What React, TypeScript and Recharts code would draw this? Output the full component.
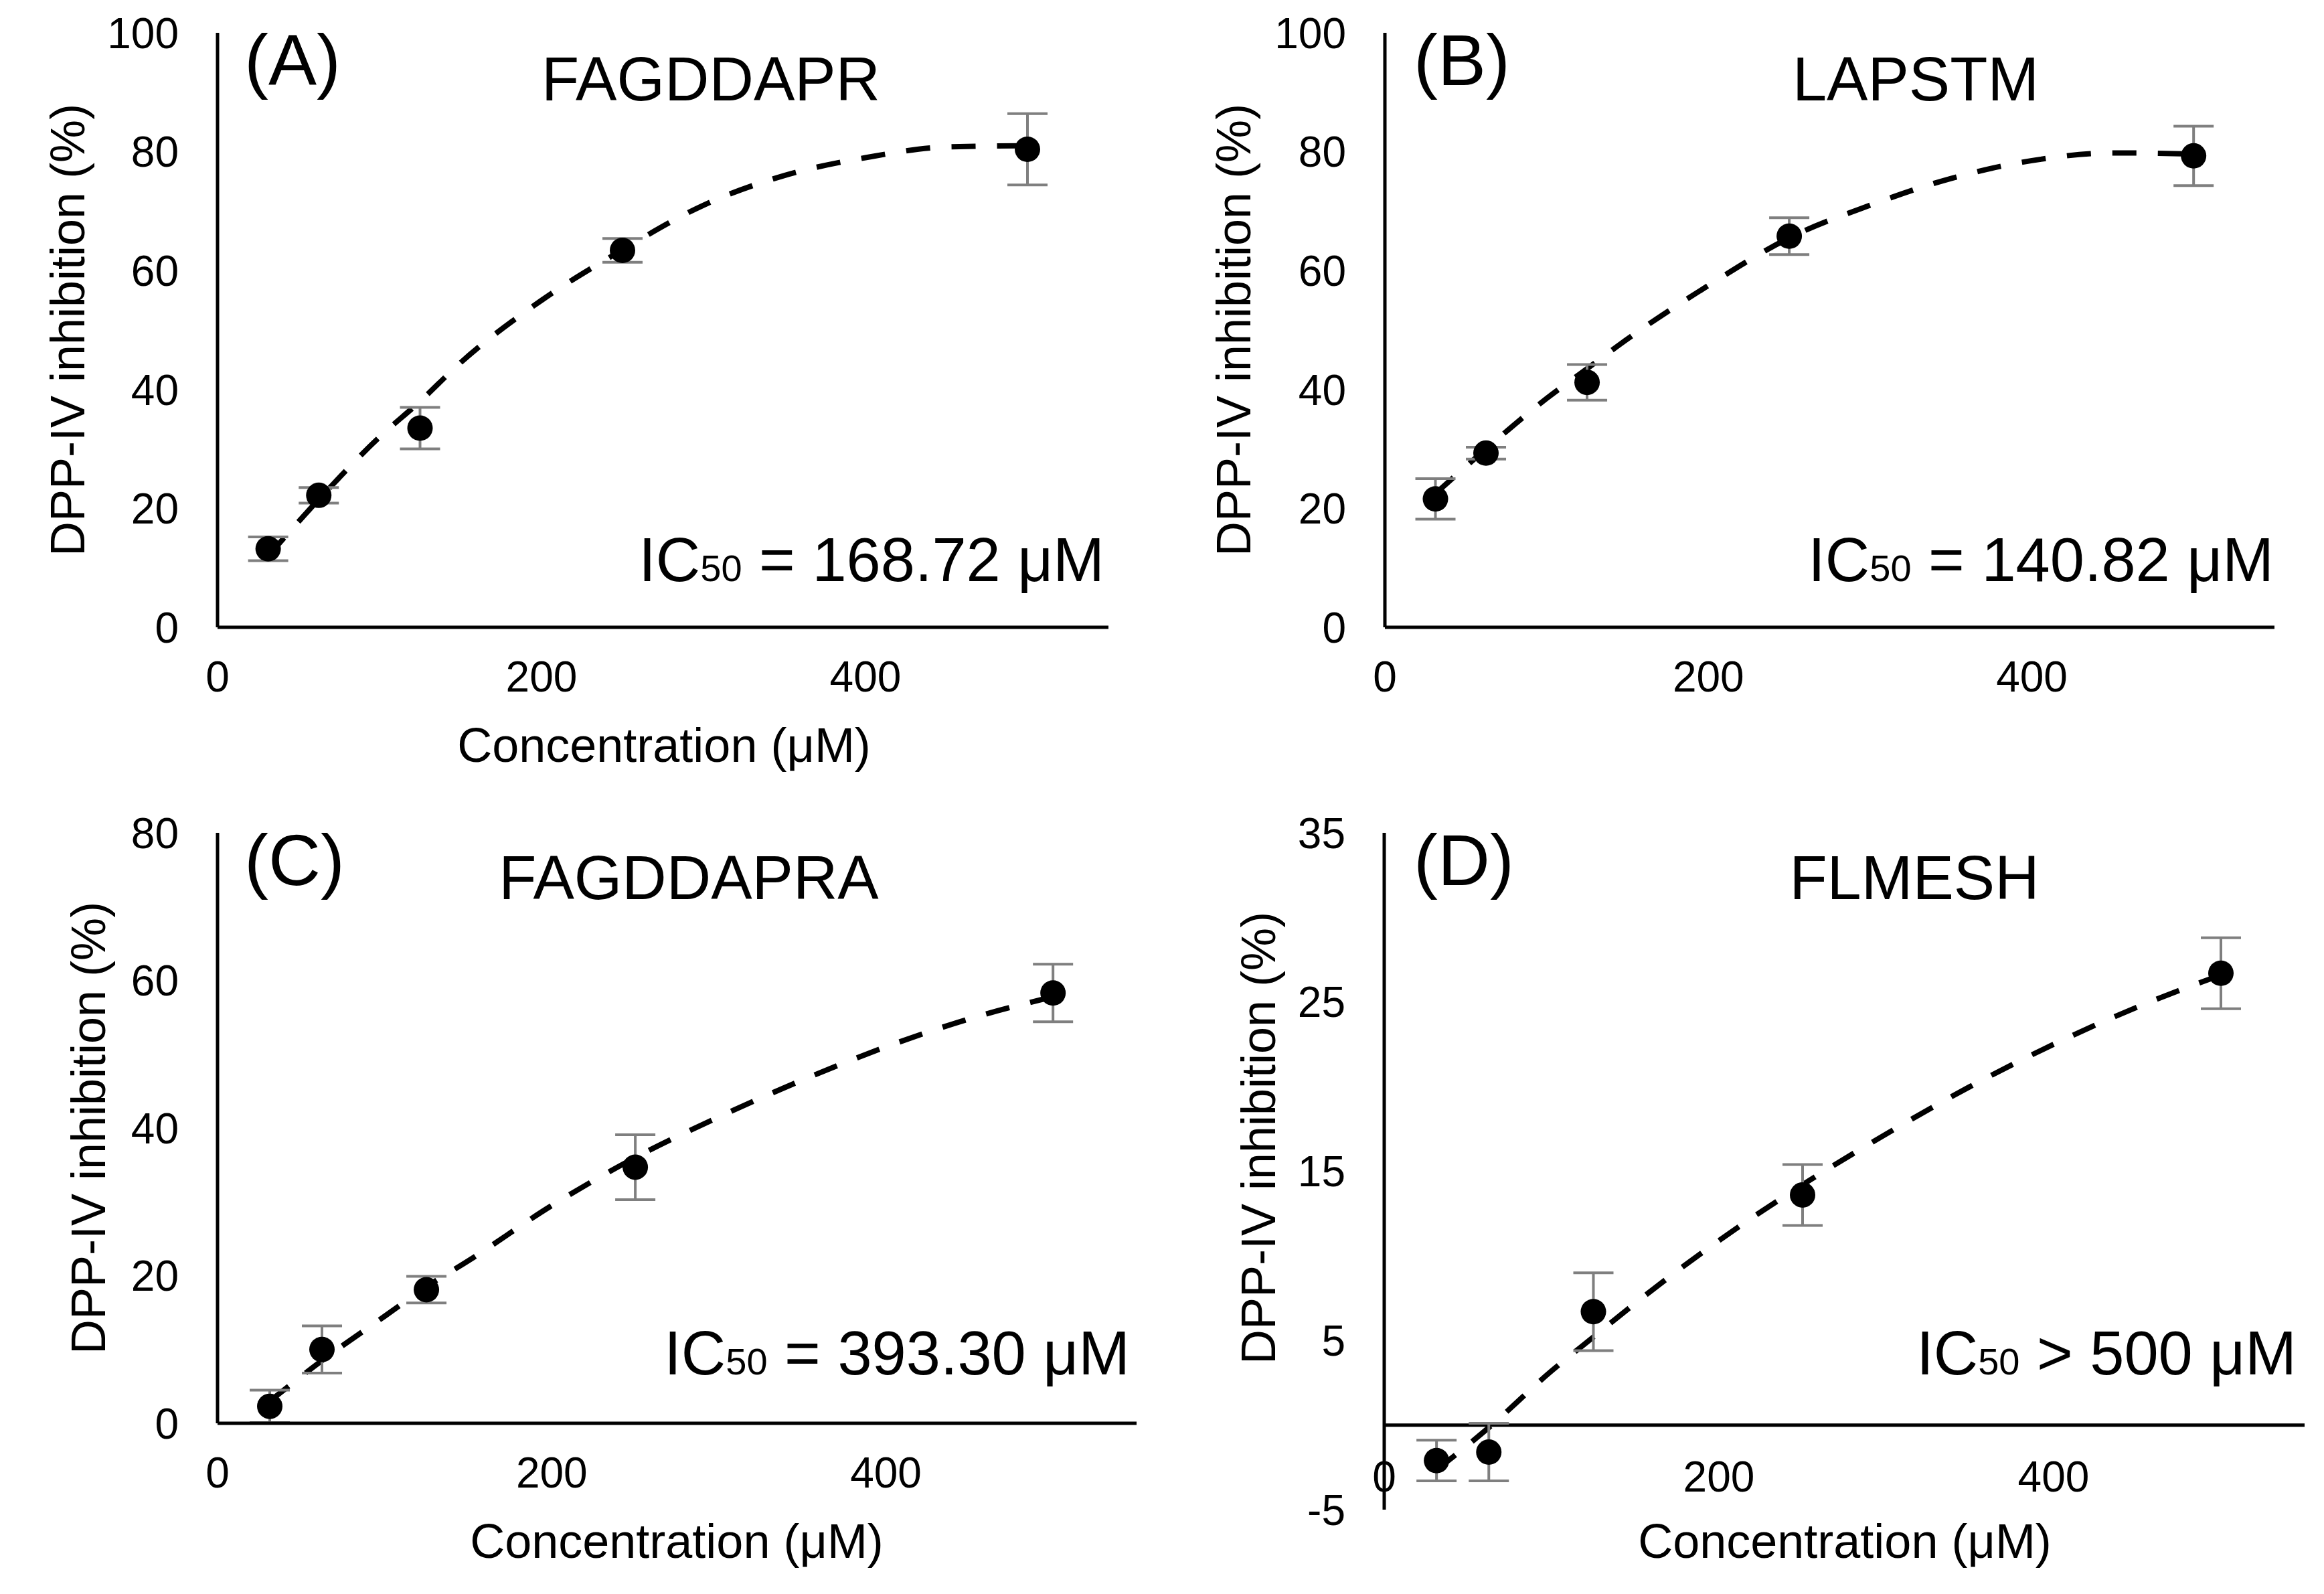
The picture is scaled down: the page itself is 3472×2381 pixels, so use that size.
import React from "react"
import {
  ComposedChart,
  Line,
  Scatter,
  ErrorBar,
  XAxis,
  YAxis,
  ReferenceLine,
} from "recharts"

const FONT = '"Liberation Sans", Arial, sans-serif'

// shared x values (μM)
const conc = [31.25, 62.5, 125, 250, 500]
const fitConc = [31.25, 62.5, 100, 125, 150, 200, 250, 300, 350, 400, 450, 500]
const xTicks = [0, 200, 400]

// (A) FAGDDAPR
const aMean = [13.2, 22.2, 33.5, 63.4, 80.4]
const aErr = [2.0, 1.3, 3.5, 2.0, 6.0]
const aFit = [12, 21.5, 32, 38, 44.5, 55, 63.5, 71, 76, 79, 80.8, 81]
const aTicks = [0, 20, 40, 60, 80, 100]

// (B) LAPSTM
const bMean = [21.6, 29.3, 41.2, 65.8, 79.3]
const bErr = [3.4, 1.0, 3.0, 3.1, 5.0]
const bFit = [22.5, 30, 38.5, 43.5, 48.5, 57.5, 65.5, 71, 75.5, 78.5, 79.8, 79.6]
const bTicks = [0, 20, 40, 60, 80, 100]

// (C) FAGDDAPRA
const cMean = [2.3, 10.0, 18.1, 34.7, 58.3]
const cErr = [2.2, 3.2, 1.8, 4.4, 3.9]
const cFit = [3, 8.5, 14.5, 18.5, 22, 29.5, 36, 41.5, 46.5, 51, 54.8, 57.8]
const cTicks = [0, 20, 40, 60, 80]

// (D) FLMESH
const dMean = [-2.1, -1.6, 6.7, 13.6, 26.7]
const dErr = [1.2, 1.7, 2.3, 1.8, 2.1]
const dFit = [-2.65, -0.15, 3.2, 5.2, 7.2, 10.9, 14.2, 17.2, 20, 22.5, 24.7, 26.6]
const dTicks = [-5, 5, 15, 25, 35]

const YW = 300
const XH = 150
const MT = 40
const MR = 40

function Dot(props: any) {
  const { cx, cy } = props
  if (cx == null || cy == null) return null
  return <circle cx={cx} cy={cy} r={19} fill="#000" />
}

function XTick({ x, y, payload, shift }: any) {
  return (
    <text
      x={x}
      y={y + shift}
      textAnchor="middle"
      fontSize={64}
      fontFamily={FONT}
      fill="#000"
    >
      {payload.value}
    </text>
  )
}

type PanelProps = {
  box: [number, number, number, number] // plot left, top, right, bottom
  mean: number[]
  err: number[]
  fit: number[]
  yTicks: number[]
  zeroAxis?: boolean
}

function Panel({ box, mean, err, fit, yTicks, zeroAxis }: PanelProps) {
  const [x0, y0, x1, y1] = box
  const width = x1 - x0 + YW + MR
  const height = y1 - y0 + MT + XH
  const points = conc.map((x, i) => ({ x, y: mean[i], err: err[i] }))
  const curve = fitConc.map((x, i) => ({ x, y: fit[i] }))
  const shift = zeroAxis ? -27 : 96

  return (
    <div style={{ position: "absolute", left: x0 - YW, top: y0 - MT }}>
      <ComposedChart
        width={width}
        height={height}
        margin={{ top: MT, right: MR, bottom: 0, left: 0 }}
      >
        <XAxis
          type="number"
          dataKey="x"
          domain={[0, 550]}
          ticks={xTicks}
          allowDataOverflow
          interval={0}
          height={XH}
          tickSize={0}
          tickMargin={0}
          tickLine={false}
          axisLine={zeroAxis ? false : { stroke: "#000", strokeWidth: 5 }}
          tick={(p: any) => <XTick {...p} shift={shift} />}
        />
        <YAxis
          type="number"
          dataKey="y"
          domain={[yTicks[0], yTicks[yTicks.length - 1]]}
          ticks={yTicks}
          allowDataOverflow
          interval={0}
          width={YW}
          tickSize={0}
          tickMargin={58}
          tickLine={false}
          axisLine={{ stroke: "#000", strokeWidth: 5 }}
          tick={{ fontSize: 64, fill: "#000", fontFamily: FONT }}
        />
        {zeroAxis && (
          <ReferenceLine y={0} stroke="#000" strokeWidth={5} />
        )}
        <Line
          data={curve}
          dataKey="y"
          type="monotone"
          stroke="#000"
          strokeWidth={8}
          strokeDasharray="36 32"
          dot={false}
          activeDot={false}
          isAnimationActive={false}
        />
        <Scatter
          data={points}
          dataKey="y"
          shape={<Dot />}
          isAnimationActive={false}
        >
          <ErrorBar
            dataKey="err"
            direction="y"
            width={30}
            stroke="#7f7f7f"
            strokeWidth={4}
          />
        </Scatter>
      </ComposedChart>
    </div>
  )
}

function Ic50({ x, y, rest }: { x: number; y: number; rest: string }) {
  return (
    <text x={x} y={y} textAnchor="end" fontSize={92}>
      IC<tspan fontSize={56}>50</tspan>
      {rest}
    </text>
  )
}

function YTitle({ x, y }: { x: number; y: number }) {
  return (
    <text
      transform={`translate(${x},${y}) rotate(-90)`}
      textAnchor="middle"
      dominantBaseline="central"
      fontSize={72}
    >
      DPP-IV inhibition (%)
    </text>
  )
}

export default function App() {
  return (
    <div
      style={{
        position: "absolute",
        left: 0,
        top: 0,
        width: 3472,
        height: 2381,
        background: "#fff",
        fontFamily: FONT,
      }}
    >
      <Panel box={[325, 49, 1656, 937]} mean={aMean} err={aErr} fit={aFit} yTicks={aTicks} />
      <Panel box={[2069, 49, 3398, 937]} mean={bMean} err={bErr} fit={bFit} yTicks={bTicks} />
      <Panel box={[325, 1244, 1698, 2126]} mean={cMean} err={cErr} fit={cFit} yTicks={cTicks} />
      <Panel box={[2068, 1244, 3443, 2255]} mean={dMean} err={dErr} fit={dFit} yTicks={dTicks} zeroAxis />

      <svg
        width={3472}
        height={2381}
        style={{ position: "absolute", left: 0, top: 0, pointerEvents: "none" }}
        fontFamily={FONT}
        fill="#000"
      >
        {/* A */}
        <text x={365} y={127} fontSize={108}>(A)</text>
        <text x={1062} y={150} fontSize={92} textAnchor="middle">FAGDDAPR</text>
        <Ic50 x={1650} y={868} rest=" = 168.72 μM" />
        <text x={992} y={1138} fontSize={72} textAnchor="middle">Concentration (μM)</text>
        <YTitle x={101} y={493} />

        {/* B */}
        <text x={2112} y={127} fontSize={108}>(B)</text>
        <text x={2862} y={150} fontSize={92} textAnchor="middle">LAPSTM</text>
        <Ic50 x={3397} y={868} rest=" = 140.82 μM" />
        <YTitle x={1843} y={493} />

        {/* C */}
        <text x={365} y={1322} fontSize={108}>(C)</text>
        <text x={1029} y={1343} fontSize={92} textAnchor="middle">FAGDDAPRA</text>
        <Ic50 x={1688} y={2053} rest=" = 393.30 μM" />
        <text x={1011} y={2327} fontSize={72} textAnchor="middle">Concentration (μM)</text>
        <YTitle x={132} y={1685} />

        {/* D */}
        <text x={2112} y={1322} fontSize={108}>(D)</text>
        <text x={2860} y={1343} fontSize={92} textAnchor="middle">FLMESH</text>
        <Ic50 x={3431} y={2053} rest=" > 500 μM" />
        <text x={2756} y={2327} fontSize={72} textAnchor="middle">Concentration (μM)</text>
        <YTitle x={1880} y={1700} />
      </svg>
    </div>
  )
}
